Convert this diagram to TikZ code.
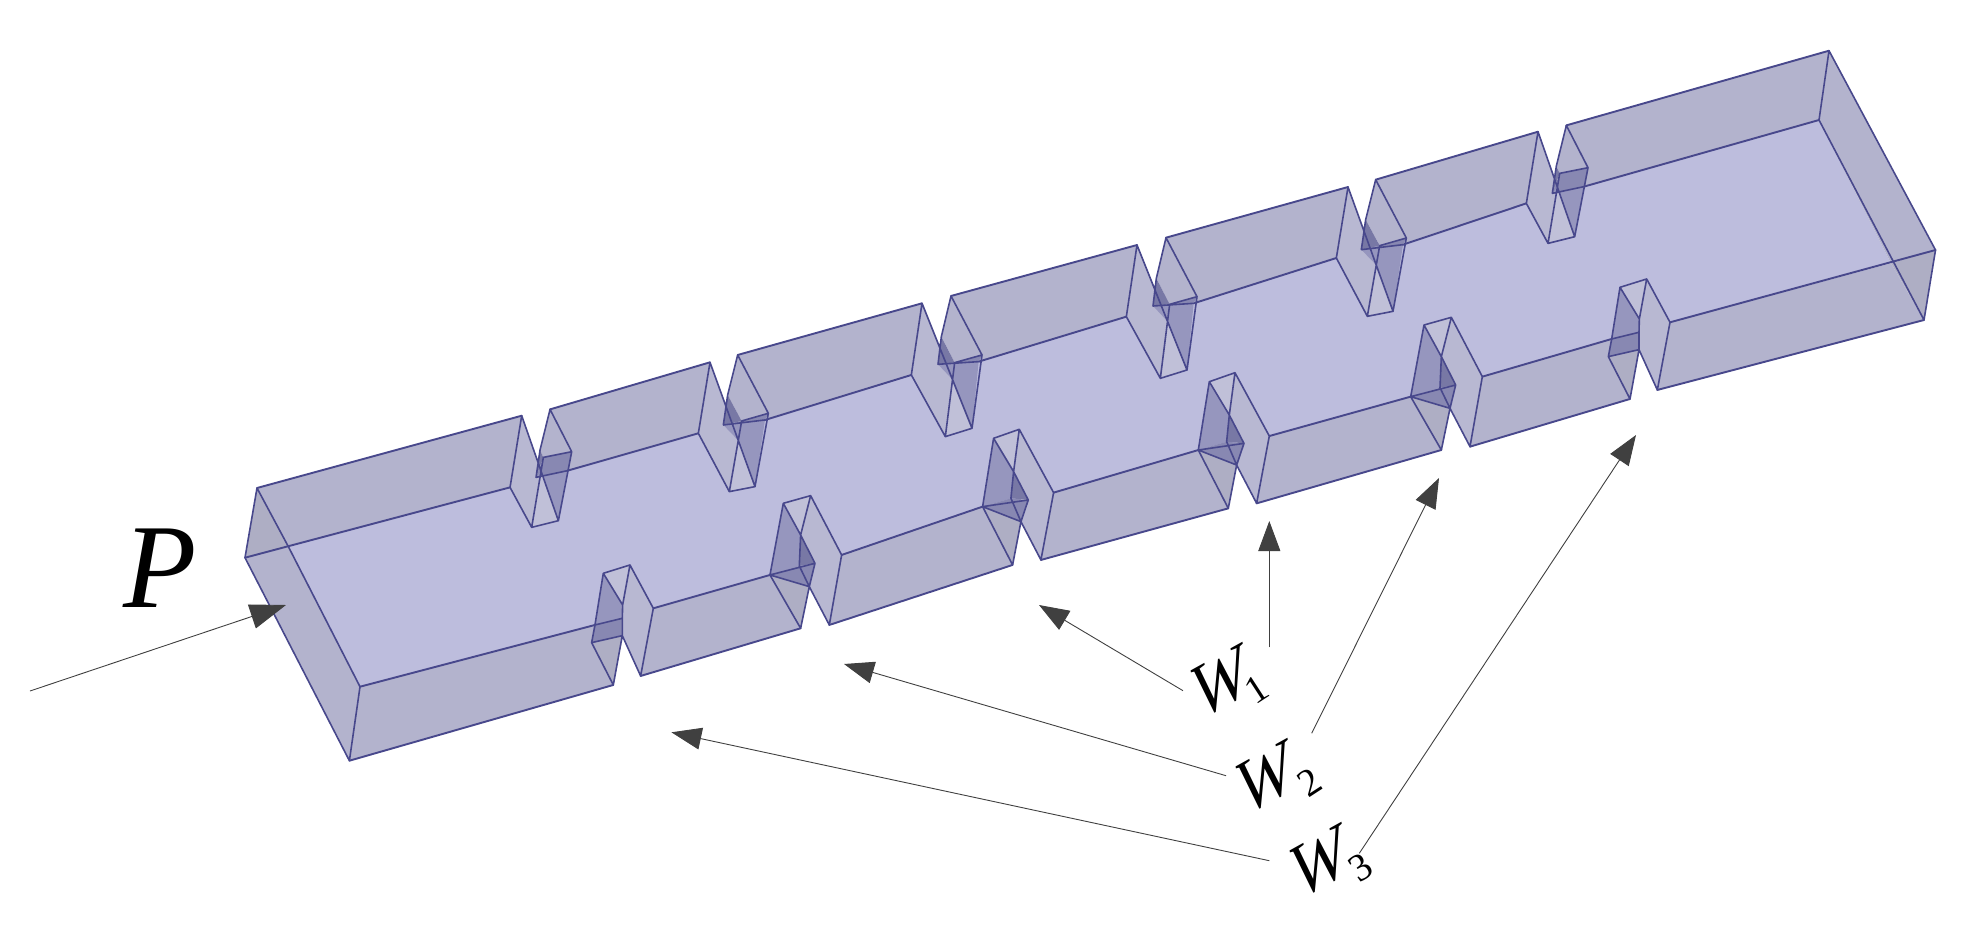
\documentclass[tikz,border=0pt]{standalone}
\usepackage{fontspec}
\setmainfont{Liberation Serif}
\usetikzlibrary{arrows.meta}
\definecolor{floorc}{RGB}{189,189,221}
\definecolor{wallc}{RGB}{179,179,205}
\definecolor{platec}{RGB}{184,184,210}
\definecolor{endc}{RGB}{174,174,196}
\definecolor{lightc}{RGB}{192,192,216}
\definecolor{darka}{RGB}{120,120,165}
\definecolor{darkb}{RGB}{136,136,178}
\definecolor{darkc}{RGB}{150,150,190}
\definecolor{edgec}{RGB}{72,72,140}
\definecolor{arrowc}{RGB}{64,64,64}
\tikzset{
  edge/.style={draw=edgec,line width=1.9pt,line join=round,line cap=round},
  thinedge/.style={draw=edgec,line width=1.6pt,line join=round,line cap=round},
  pointer/.style={draw=arrowc,line width=0.9pt,-{Triangle[length=30pt,width=22pt,fill=arrowc]}},
  bigpointer/.style={draw=arrowc,line width=0.9pt,-{Triangle[length=36pt,width=25pt,fill=arrowc]}},
  wlabel/.style={font=\fontsize{63}{63}\selectfont,rotate=29,xslant=.35,yscale=1.15,inner sep=0pt},
  sublabel/.style={font=\fontsize{39}{39}\selectfont,rotate=33,inner sep=0pt},
}
% back-notch shapes, relative offsets in third-pixels
\newcommand\btA[1]{%
 \coordinate (b#1) at (-35,215);\coordinate (c#1) at (30,335);\coordinate (d#1) at (110,315);
 \coordinate (e#1) at (85,-19);\coordinate (f#1) at (150,108);\coordinate (g#1) at (137,165);
 \coordinate (h#1) at (55,103);\coordinate (i#1) at (43,185);\coordinate (j#1) at (65,125);}
\newcommand\btB[1]{%
 \coordinate (b#1) at (-35,213);\coordinate (c#1) at (58,388);\coordinate (d#1) at (135,373);
 \coordinate (e#1) at (83,-22);\coordinate (f#1) at (175,153);\coordinate (g#1) at (165,173);
 \coordinate (h#1) at (53,98);\coordinate (i#1) at (40,188);\coordinate (j#1) at (95,176);}
\newcommand\btC[1]{%
 \coordinate (b#1) at (-32,215);\coordinate (c#1) at (70,400);\coordinate (d#1) at (150,375);
 \coordinate (e#1) at (87,-22);\coordinate (f#1) at (180,155);\coordinate (g#1) at (170,175);
 \coordinate (h#1) at (58,100);\coordinate (i#1) at (48,183);\coordinate (j#1) at (98,178);}
% front-notch shapes
\newcommand\ftA[1]{%
 \coordinate (t#1) at (80,-25);\coordinate (u#1) at (150,105);\coordinate (v#1) at (112,308);
 \coordinate (w#1) at (30,335);\coordinate (n#1) at (-25,155);\coordinate (y#1) at (-35,208);
 \coordinate (r#1) at (58,95);\coordinate (s#1) at (57,135);\coordinate (m#1) at (57,135);
 \coordinate (o#1) at (57,187);}
\newcommand\ftB[1]{%
 \coordinate (t#1) at (82,-23);\coordinate (u#1) at (175,155);\coordinate (v#1) at (138,365);
 \coordinate (w#1) at (52,375);\coordinate (n#1) at (-40,215);\coordinate (y#1) at (-40,215);
 \coordinate (r#1) at (52,95);\coordinate (s#1) at (95,180);\coordinate (m#1) at (48,188);
 \coordinate (o#1) at (78,250);}
\newcommand\ftC[1]{%
 \coordinate (t#1) at (77,-27);\coordinate (u#1) at (180,163);\coordinate (v#1) at (142,365);
 \coordinate (w#1) at (57,380);\coordinate (n#1) at (-33,205);\coordinate (y#1) at (-33,205);
 \coordinate (r#1) at (60,100);\coordinate (s#1) at (104,185);\coordinate (m#1) at (52,180);
 \coordinate (o#1) at (82,250);}
\newcommand\defback[4]{%
 \begin{scope}[shift={(#2,#3)},x=0.3333pt,y=-0.3333pt]
 \coordinate (a#1) at (0,0);\csname bt#4\endcsname{#1}
 \coordinate (X#1) at (intersection cs:first line={(a#1)--(d#1)},second line={(c#1)--(j#1)});
 \end{scope}}
\newcommand\deffront[4]{%
 \begin{scope}[shift={(#2,#3)},x=0.3333pt,y=-0.3333pt]
 \coordinate (a#1) at (0,0);\csname ft#4\endcsname{#1}
 \end{scope}}
\newcommand\drawback[1]{%
 \fill[platec] (a#1)--(b#1)--(c#1)--(X#1)--cycle;
 \fill[lightc] (c#1)--(d#1)--(X#1)--cycle;
 \fill[wallc] (e#1)--(f#1)--(j#1)--(h#1)--cycle;
 \fill[darka] (h#1)--(j#1)--(i#1)--cycle;
 \fill[darkb] (j#1)--(f#1)--(g#1)--(i#1)--cycle;
 \fill[darkc] (i#1)--(g#1)--(d#1)--(X#1)--cycle;
 \draw[thinedge] (a#1)--(b#1)--(c#1)--(d#1)--(a#1) (c#1)--(j#1) (e#1)--(h#1)
   (e#1)--(f#1)--(d#1) (i#1)--(g#1) (j#1)--(f#1) (h#1)--(i#1);}
\newcommand\drawfront[1]{%
 \fill[lightc] (a#1)--(t#1)--(r#1)--cycle;
 \fill[platec] (t#1)--(u#1)--(v#1)--(o#1)--(s#1)--(r#1)--cycle;
 \fill[darkc] (a#1)--(r#1)--(m#1)--(n#1)--cycle;
 \fill[darkb] (n#1)--(m#1)--(o#1)--(y#1)--cycle;
 \fill[darka] (r#1)--(s#1)--(m#1)--cycle;
 \fill[darkb] (m#1)--(s#1)--(o#1)--cycle;
 \fill[endc] (y#1)--(o#1)--(w#1)--cycle;
 \draw[thinedge] (a#1)--(t#1)--(u#1)--(v#1)--(o#1)--(s#1)--(r#1)--(a#1)
   (t#1)--(r#1)--(m#1)--(o#1) (n#1)--(s#1) (y#1)--(o#1)--(w#1)--(y#1)--(n#1)--(a#1);}
\begin{document}
\begin{tikzpicture}[x=1pt,y=-1pt]
\useasboundingbox (0,0) rectangle (1984,940);
% anchors
\coordinate (A) at (257,488);\coordinate (B) at (288.4,546.7);\coordinate (C) at (245,557.7);
\coordinate (D) at (360,686.7);\coordinate (E) at (349.4,760.7);
\coordinate (T) at (1829,50.7);\coordinate (S) at (1819,120);\coordinate (R) at (1891,263.3);
\coordinate (Q) at (1935.5,250);\coordinate (Z) at (1924,320);
\defback{B1}{521.7}{415.7}{A}
\defback{B2}{710}{362.3}{B}
\defback{B3}{922}{303.3}{C}
\defback{B4}{1137}{245}{C}
\defback{B5}{1348}{187}{B}
\defback{B6}{1538}{131.7}{A}
\deffront{F1}{603.3}{573.3}{A}
\deffront{F2}{783.3}{503.3}{B}
\deffront{F3}{993.6}{438.3}{C}
\deffront{F4}{1209.3}{381.7}{C}
\deffront{F5}{1424}{325}{B}
\deffront{F6}{1620}{287.3}{A}
% floor
\fill[floorc] (B)--(S)--(R)--(uF6)--(nF6)--(uF5)--(nF5)--(uF4)--(nF4)--(uF3)--(nF3)--(uF2)--(nF2)--(uF1)--(nF1)--(D)--cycle;
% end faces
\fill[endc] (A)--(B)--(C)--cycle;
\fill[wallc] (C)--(B)--(D)--(E)--cycle;
\fill[endc] (R)--(Q)--(Z)--cycle;
\fill[wallc] (T)--(Q)--(R)--(S)--cycle;
% back walls
\fill[wallc] (A)--(aB1)--(bB1)--(B)--cycle;
\draw[edge] (C)--(bB1) (A)--(aB1);
\foreach \p/\q in {1/2,2/3,3/4,4/5,5/6}{
  \fill[wallc] (eB\p)--(aB\q)--(bB\q)--(gB\p)--cycle;
  \draw[edge] (eB\p)--(aB\q) (gB\p)--(bB\q);
}
\fill[wallc] (eB6)--(T)--(S)--(gB6)--cycle;
\draw[edge] (eB6)--(T) (gB6)--(S);
% front walls
\fill[wallc] (D)--(nF1)--(yF1)--(wF1)--(E)--cycle;
\draw[edge] (D)--(nF1) (E)--(wF1);
\foreach \p/\q in {1/2,2/3,3/4,4/5,5/6}{
  \fill[wallc] (uF\p)--(nF\q)--(yF\q)--(wF\q)--(vF\p)--cycle;
  \draw[edge] (uF\p)--(nF\q) (vF\p)--(wF\q);
}
\fill[wallc] (uF6)--(R)--(Z)--(vF6)--cycle;
\draw[edge] (uF6)--(Q) (vF6)--(Z);
% end edges
\draw[thinedge] (A)--(C)--(E)--(D)--(B)--(A) (T)--(S)--(Z)--(Q)--(T);
% notches
\foreach \k in {1,...,6}{\drawback{B\k}\drawfront{F\k}}
% pointers
\coordinate (ps0) at (30,691);\coordinate (pe0) at (286,605);
\draw[bigpointer] (ps0)--(pe0);
\coordinate (ps1) at (1183,690.7);\coordinate (pe1) at (1039,605);
\coordinate (ps2) at (1269.3,647.3);\coordinate (pe2) at (1269.3,521);
\coordinate (ps3) at (1226,775.7);\coordinate (pe3) at (844,664);
\coordinate (ps4) at (1311.7,733.3);\coordinate (pe4) at (1439,478);
\coordinate (ps5) at (1269.3,860.7);\coordinate (pe5) at (671.4,732.3);
\coordinate (ps6) at (1359.3,853.3);\coordinate (pe6) at (1636,435);
\foreach \i in {1,...,6}{\draw[pointer] (ps\i)--(pe\i);}
% labels
\node[font=\fontsize{120}{120}\selectfont\itshape,inner sep=0pt] (lp) at (160,568) {P};
\node[wlabel] (w1) at (1221,682) {W};
\node[sublabel] (s1) at (1257,689) {1};
\node[wlabel] (w2) at (1266,778) {W};
\node[sublabel] (s2) at (1309.3,782) {2};
\node[wlabel] (w3) at (1320,862) {W};
\node[sublabel] (s3) at (1361,868) {3};
\end{tikzpicture}
\end{document}
